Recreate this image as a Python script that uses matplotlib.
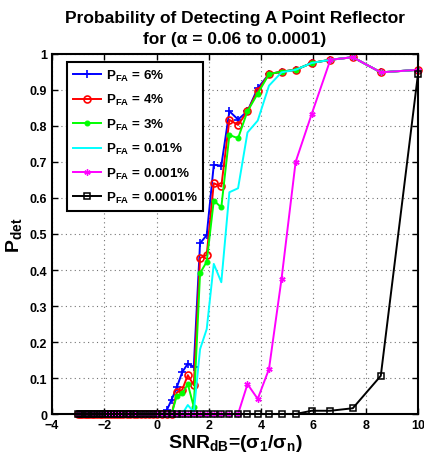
import matplotlib
matplotlib.use('Agg')
import matplotlib.pyplot as plt

plt.rcParams['font.family'] = ['Liberation Sans', 'DejaVu Sans']
plt.rcParams['font.weight'] = 'bold'
plt.rcParams['mathtext.fontset'] = 'custom'
plt.rcParams['mathtext.rm'] = 'Liberation Sans:bold'
plt.rcParams['mathtext.it'] = 'Liberation Sans:bold'
plt.rcParams['mathtext.bf'] = 'Liberation Sans:bold'
plt.rcParams['mathtext.default'] = 'rm'

snr_db = [-3.010, -2.925, -2.839, -2.750, -2.660, -2.567, -2.473, -2.377, -2.278, -2.177,
          -2.074, -1.969, -1.860, -1.749, -1.635, -1.518, -1.398, -1.274, -1.146, -1.015,
          -0.880, -0.740, -0.596, -0.447, -0.291, -0.131, 0.036, 0.209, 0.389, 0.577,
          0.774, 0.980, 1.196, 1.424, 1.664, 1.919, 2.189, 2.477, 2.786, 3.118,
          3.478, 3.870, 4.301, 4.780, 5.319, 5.933, 6.649, 7.507, 8.577, 10.000]

pd_6 = [0, 0, 0, 0, 0, 0, 0, 0, 0, 0,
        0, 0, 0, 0, 0, 0, 0, 0, 0, 0,
        0, 0, 0, 0, 0, 0, 0, 0, 0.010, 0.040,
        0.074, 0.116, 0.140, 0.131, 0.474, 0.497, 0.692, 0.690, 0.841, 0.818,
        0.841, 0.905, 0.944, 0.951, 0.956, 0.975, 0.984, 0.991, 0.949, 0.956]
pd_4 = [0, 0, 0, 0, 0, 0, 0, 0, 0, 0,
        0, 0, 0, 0, 0, 0, 0, 0, 0, 0,
        0, 0, 0, 0, 0, 0, 0, 0, 0, 0,
        0.060, 0.067, 0.108, 0.080, 0.433, 0.442, 0.641, 0.632, 0.817, 0.803,
        0.841, 0.898, 0.944, 0.951, 0.956, 0.975, 0.984, 0.991, 0.949, 0.956]
pd_3 = [0, 0, 0, 0, 0, 0, 0, 0, 0, 0,
        0, 0, 0, 0, 0, 0, 0, 0, 0, 0,
        0, 0, 0, 0, 0, 0, 0, 0, 0, 0,
        0.051, 0.057, 0.083, 0.020, 0.391, 0.423, 0.593, 0.574, 0.775, 0.766,
        0.841, 0.890, 0.944, 0.951, 0.956, 0.975, 0.984, 0.991, 0.949, 0.956]
pd_001 = [0, 0, 0, 0, 0, 0, 0, 0, 0, 0,
          0, 0, 0, 0, 0, 0, 0, 0, 0, 0,
          0, 0, 0, 0, 0, 0, 0, 0, 0, 0,
          0, 0, 0.025, 0.005, 0.180, 0.236, 0.417, 0.366, 0.616, 0.627,
          0.782, 0.815, 0.912, 0.949, 0.956, 0.975, 0.984, 0.991, 0.949, 0.956]
pd_0001 = [0, 0, 0, 0, 0, 0, 0, 0, 0, 0,
           0, 0, 0, 0, 0, 0, 0, 0, 0, 0,
           0, 0, 0, 0, 0, 0, 0, 0, 0, 0,
           0, 0, 0, 0, 0, 0, 0, 0, 0, 0,
           0.083, 0.042, 0.125, 0.375, 0.700, 0.833, 0.984, 0.991, 0.949, 0.956]
pd_00001 = [0, 0, 0, 0, 0, 0, 0, 0, 0, 0,
            0, 0, 0, 0, 0, 0, 0, 0, 0, 0,
            0, 0, 0, 0, 0, 0, 0, 0, 0, 0,
            0, 0, 0, 0, 0, 0, 0, 0, 0, 0,
            0, 0, 0, 0, 0, 0.009, 0.009, 0.016, 0.106, 0.944]

labels = [r'P$_{FA}$ = 6%', r'P$_{FA}$ = 4%', r'P$_{FA}$ = 3%',
          r'P$_{FA}$ = 0.01%', r'P$_{FA}$ = 0.001%', r'P$_{FA}$ = 0.0001%']
x_ticks = [-4, -2, 0, 2, 4, 6, 8, 10]
y_ticks = [0, 0.1, 0.2, 0.3, 0.4, 0.5, 0.6, 0.7, 0.8, 0.9, 1]
y_ticklabels = ['0', '0.1', '0.2', '0.3', '0.4', '0.5', '0.6', '0.7', '0.8', '0.9', '1']

fig = plt.figure(figsize=(4.24, 4.56), dpi=100)
ax = fig.add_axes([0.1226, 0.0899, 0.8632, 0.7895])

lw = 1.4
common = dict(lw=lw, clip_on=False)
ax.plot(snr_db, pd_6, color='#0000ff', marker='+', ms=6, mew=1.2, label=labels[0], **common)
ax.plot(snr_db, pd_4, color='#ff0000', marker='o', ms=5, mfc='none', mew=1.2, label=labels[1], **common)
ax.plot(snr_db, pd_3, color='#00ff00', marker='o', ms=3.5, mew=0.8, label=labels[2], **common)
ax.plot(snr_db, pd_001, color='#00ffff', label=labels[3], **common)
ax.plot(snr_db, pd_0001, color='#ff00ff', marker=(6, 2, 0), ms=4.5, mew=1.0, label=labels[4], **common)
ax.plot(snr_db, pd_00001, color='#000000', marker='s', ms=4, mfc='none', mew=1.1, label=labels[5], **common)

ax.set_xlim(-4, 10)
ax.set_ylim(0, 1)
ax.set_xticks(x_ticks)
ax.set_xticklabels([f'{v}'.replace('-', '\u2212') for v in x_ticks])
ax.set_yticks(y_ticks)
ax.set_yticklabels(y_ticklabels)
ax.tick_params(direction='in', top=True, right=True, length=4, width=1, labelsize=9)
for lab in ax.get_xticklabels() + ax.get_yticklabels():
    lab.set_fontweight('bold')
for s in ax.spines.values():
    s.set_linewidth(1.5)
ax.grid(True, linestyle=(0, (1, 3)), color='0.45', lw=0.8)

ax.set_title('Probability of Detecting A Point Reflector\nfor (\u03b1 = 0.06 to 0.0001)',
             fontsize=12.5, fontweight='bold', pad=8, linespacing=1.5)
ax.set_xlabel('SNR$_{dB}$=(\u03c3$_{1}$/\u03c3$_{n}$)', fontsize=14, fontweight='bold', labelpad=1)
ax.set_ylabel('P$_{det}$', fontsize=14, fontweight='bold', labelpad=4)

leg = ax.legend(loc='upper left', bbox_to_anchor=(0.041, 0.978), borderaxespad=0,
                fontsize=9.6, fancybox=False, framealpha=1, handlelength=2.1,
                labelspacing=0.7, borderpad=0.45, handletextpad=0.35)
leg.get_frame().set_edgecolor('black')
leg.get_frame().set_linewidth(1.5)
leg.set_zorder(5)

fig.savefig('out.png', dpi=100)
